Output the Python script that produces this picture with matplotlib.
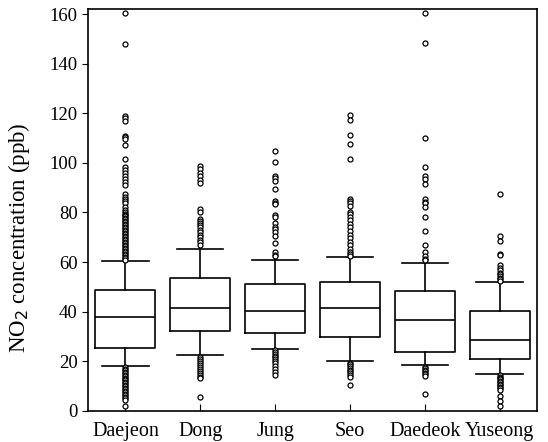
import matplotlib
matplotlib.use("Agg")
import matplotlib.pyplot as plt

plt.rcParams['font.family'] = ['Liberation Serif', 'DejaVu Serif']

districts = ["Daejeon", "Dong", "Jung", "Seo", "Daedeok", "Yuseong"]
q1 = [25.3, 32.0, 31.4, 29.6, 23.8, 20.8]
median = [37.7, 41.5, 40.3, 41.4, 36.7, 28.7]
q3 = [48.9, 53.4, 51.1, 52.1, 48.4, 40.4]
whisker_low = [18.2, 22.6, 25.1, 20.2, 18.4, 15.0]
whisker_high = [60.3, 65.4, 61.0, 61.9, 59.8, 51.9]

outliers_daejeon = [160.5, 148, 119, 118, 117, 111, 110.5, 109.8, 107.3, 101.5,
                    98.4, 97.2, 96, 94.8, 93.5, 92.3, 91.1, 87.5, 86.2, 85.4, 84.6,
                    83.8, 82.2, 81, 80.2, 79.5, 79, 78.4, 77.8, 77.2, 76.6, 76, 75.4,
                    74.8, 74.2, 73.6, 73, 72.4, 71.8, 71.2, 70.6, 70, 69.4, 68.8,
                    68.2, 67.6, 67, 66.4, 65.8, 65.2, 64.6, 64, 63.4, 62.8, 62.2,
                    61.6, 61, 17.6, 17, 16.4, 15.8, 15.2, 14.6, 14, 13.4, 12.8,
                    12.2, 11.6, 11, 10.4, 9.8, 9.2, 8.6, 8, 7.4, 6.8, 6.2, 5.6,
                    5, 4.5, 1.9]
outliers_dong = [98.9, 97.5, 96, 94.6, 93.3, 91.8, 81.4, 80.2, 77.2, 76.4, 75.6,
                 74.8, 74, 73, 72, 71, 70, 69, 68, 67, 21.8, 21, 20.2, 19.4,
                 18.6, 17.8, 17, 16.2, 15.4, 14.6, 13.8, 13.1, 5.4]
outliers_jung = [105, 100.3, 94.9, 93.8, 92.9, 89.5, 84.8, 84, 83.5, 79, 78.2,
                 75.7, 74, 73.5, 72, 70.4, 67.5, 64, 63, 62.5, 24.3, 23.6, 22.9,
                 22.2, 21.5, 20.8, 20.1, 19.4, 18, 17, 15.6, 14.6]
outliers_seo = [119.2, 117.2, 111.1, 107.5, 101.7, 85.4, 84.6, 83.8, 82.8, 80.2,
                79.2, 78, 77, 75.4, 74.2, 72.6, 71, 69.6, 68, 67, 65.4, 64.2,
                63.4, 62.6, 19.4, 18.7, 18, 17.3, 16.6, 15.9, 15.2, 14.5, 13.8,
                10.3]
outliers_daedeok = [160.5, 148.3, 110, 98.3, 94.9, 93.5, 91.5, 85.4, 84.3, 83.8,
                    82.2, 78, 72.6, 66.9, 64, 62.5, 61.4, 60.8, 17.8, 17.2, 16.6,
                    16, 15.4, 14.8, 14.2, 6.8]
outliers_yuseong = [87.5, 70.6, 68.5, 63.4, 63, 59, 57.7, 56.6, 55.4, 55, 54.2,
                    53.6, 53, 52.4, 14.4, 13.8, 13.2, 12.6, 12, 11.4, 10.8, 10.2,
                    9.6, 9, 8.4, 6, 3.9, 1.9]
outliers = [outliers_daejeon, outliers_dong, outliers_jung, outliers_seo,
            outliers_daedeok, outliers_yuseong]

yticks = [0, 20, 40, 60, 80, 100, 120, 140, 160]

stats = []
for i, name in enumerate(districts):
    stats.append(dict(label=name, q1=q1[i], med=median[i], q3=q3[i],
                      whislo=whisker_low[i], whishi=whisker_high[i],
                      fliers=outliers[i]))

fig = plt.figure(figsize=(5.48, 4.42), dpi=100)
ax = fig.add_axes([0.1606, 0.0708, 0.8194, 0.9082])

lw = 1.2
ax.bxp(stats, positions=range(1, 7), widths=0.8, showfliers=True,
       boxprops=dict(color='black', linewidth=lw),
       medianprops=dict(color='black', linewidth=lw),
       whiskerprops=dict(color='black', linewidth=lw),
       capprops=dict(color='black', linewidth=lw),
       capwidths=0.62,
       flierprops=dict(marker='o', markersize=3.6, markerfacecolor='white',
                       markeredgecolor='black', markeredgewidth=0.9,
                       linestyle='none'))

ax.set_xlim(0.5, 6.5)
ax.set_ylim(0, 162)
ax.set_yticks(yticks)
ax.set_yticklabels([str(t) for t in yticks])
ax.set_xticks(range(1, 7))
ax.set_xticklabels(districts)
ax.tick_params(axis='x', direction='in', length=5, labelsize=14.5, pad=8)
ax.tick_params(axis='y', direction='out', length=4, labelsize=13.5)
ax.set_ylabel("NO$_2$ concentration (ppb)", fontsize=16.5)
ax.yaxis.set_label_coords(-0.125, 0.43)
for s in ax.spines.values():
    s.set_linewidth(1.2)

fig.savefig("out.png", dpi=100)
